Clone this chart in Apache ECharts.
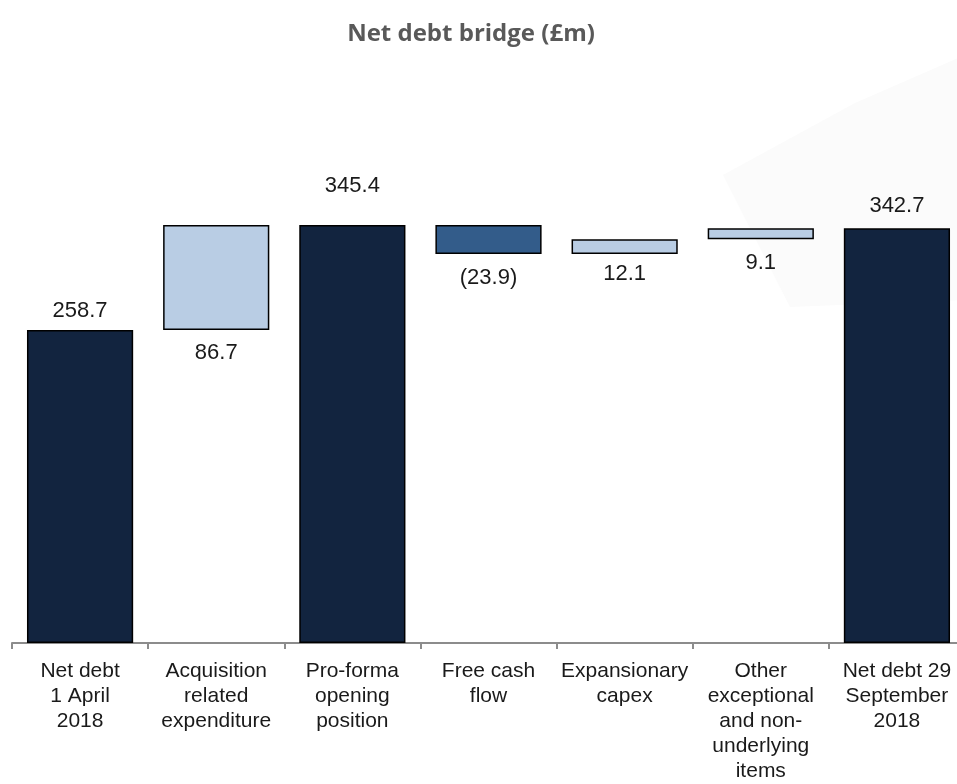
<!DOCTYPE html>
<html>
<head>
<meta charset="utf-8">
<script src="https://cdn.jsdelivr.net/npm/echarts@6/dist/echarts.min.js"></script>
<style>html,body{margin:0;padding:0;background:#fff;overflow:hidden;}#c{width:965px;height:784px;}</style>
</head>
<body>
<div id="c"></div>
<script>
const categories = ['Net debt\n1 April\n2018', 'Acquisition\nrelated\nexpenditure', 'Pro-forma\nopening\nposition', 'Free cash\nflow', 'Expansionary\ncapex', 'Other\nexceptional\nand non-\nunderlying\nitems', 'Net debt 29\nSeptember\n2018'];
const values = [258.7, 86.7, 345.4, -23.9, 12.1, 9.1, 342.7];
const isTotal = [true, false, true, false, false, false, true];

const DARK = '#12243F', LIGHT = '#B9CDE4', MID = '#335C8A';
const labelGap = [8.5, 11.5, 28.5, 13, 8.5, 13, 11];

// compute floating bases from the values
const base = [], heights = [];
let running = 0;
values.forEach((v, i) => {
  if (isTotal[i]) { base.push(0); heights.push(v); running = v; }
  else if (v >= 0) { base.push(running); heights.push(v); running += v; }
  else { running += v; base.push(running); heights.push(-v); }
});

const barData = heights.map((h, i) => {
  const v = values[i];
  const color = isTotal[i] ? DARK : (v < 0 ? MID : LIGHT);
  return {
    value: h,
    itemStyle: { color: color, borderColor: '#000', borderWidth: 1.5 },
    label: {
      show: true,
      position: isTotal[i] ? 'top' : 'bottom',
      distance: labelGap[i],
      formatter: v < 0 ? '(' + Math.abs(v).toFixed(1) + ')' : v.toFixed(1)
    }
  };
});

const chart = echarts.init(document.getElementById('c'), null, { renderer: 'canvas' });
chart.setOption({
  backgroundColor: '#fff',
  animation: false,
  title: {
    text: 'Net debt bridge (£m)',
    left: 466, top: 17, textAlign: 'center',
    textStyle: { fontFamily: 'Open Sans', fontWeight: 'bold', fontSize: 24, color: '#595959' }
  },
  graphic: [{
    type: 'polygon', silent: true, z: -10,
    shape: { points: [[723, 175], [855, 103], [965, 55], [965, 300], [790, 307]] },
    style: { fill: '#fbfbfb' }
  }],
  grid: { left: 12, right: 0, top: 159, bottom: 141, containLabel: false },
  xAxis: {
    type: 'category',
    data: categories,
    axisLine: { lineStyle: { color: '#8c8c8c', width: 2 } },
    axisTick: { show: true, length: 6, lineStyle: { color: '#8c8c8c', width: 2 } },
    axisLabel: {
      interval: 0, margin: 16, color: '#1a1a1a',
      fontFamily: 'Liberation Sans', fontSize: 21, lineHeight: 25, align: 'center'
    }
  },
  yAxis: { type: 'value', min: 0, max: 400, show: false, splitLine: { show: false } },
  series: [
    {
      type: 'bar', stack: 'w', data: base,
      itemStyle: { color: 'transparent', borderColor: 'transparent' },
      silent: true, barCategoryGap: '22%'
    },
    {
      type: 'bar', stack: 'w', data: barData,
      barCategoryGap: '22%',
      label: { color: '#1a1a1a', fontFamily: 'Liberation Sans', fontSize: 22 }
    }
  ]
});
</script>
</body>
</html>
